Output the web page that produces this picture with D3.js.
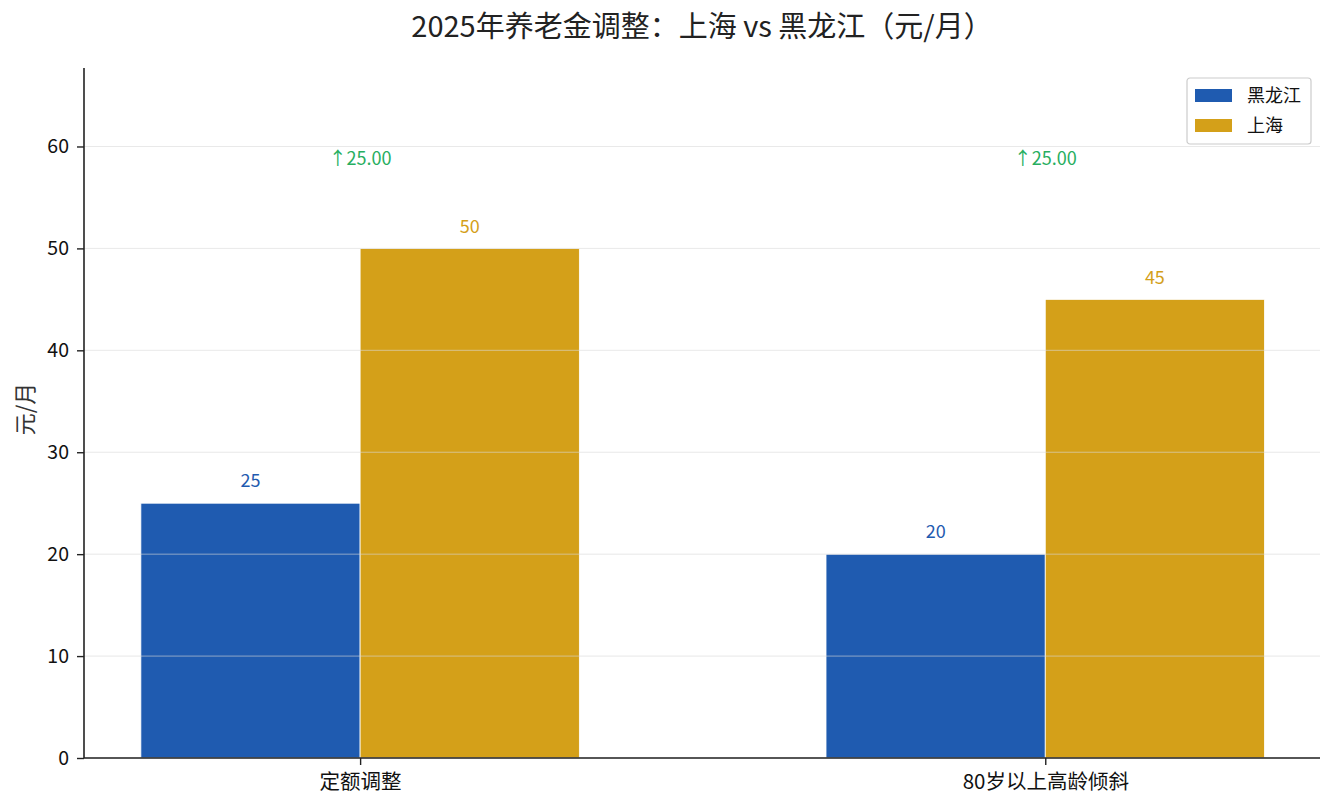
<!DOCTYPE html>
<html>
<head>
<meta charset="utf-8">
<script src="https://cdn.jsdelivr.net/npm/d3@7"></script>
<style>
  body { margin: 0; background: #fff; }
  svg text { font-family: "Noto Sans CJK SC", "Noto Sans", sans-serif; }
</style>
</head>
<body>
<div id="chart"></div>
<script>
const width = 1334;
const height = 810;

// 数据
const categories = ["定额调整", "80岁以上高龄倾斜"];
const seriesNames = ["黑龙江", "上海"];
const heilongjiang = [25, 20];
const shanghai = [50, 45];
const diffLabels = ["↑25.00", "↑25.00"];
const yTicks = [0, 10, 20, 30, 40, 50, 60];

const colors = ["#1f5bb0", "#d4a019"];
const margin = { top: 68, right: 14, bottom: 52, left: 84 };
const innerW = width - margin.left - margin.right;
const innerH = height - margin.top - margin.bottom;

const svg = d3.select("#chart").append("svg")
  .attr("width", width)
  .attr("height", height);

const g = svg.append("g").attr("transform", `translate(${margin.left},${margin.top})`);

// 比例尺
const x = d3.scaleLinear().domain([-0.403, 1.401]).range([0, innerW]);
const y = d3.scaleLinear().domain([0, 67.7]).range([innerH, 0]);
const barW = x(0.32) - x(0);

// 柱子
const series = [heilongjiang, shanghai];
series.forEach((vals, si) => {
  g.selectAll(".bar" + si)
    .data(vals)
    .enter()
    .append("rect")
    .attr("x", (d, i) => si === 0 ? x(i) - barW : x(i))
    .attr("y", d => y(d))
    .attr("width", barW)
    .attr("height", d => y(0) - y(d))
    .attr("fill", colors[si])
    .attr("stroke", "#fff")
    .attr("stroke-width", 0.8);

  g.selectAll(".val" + si)
    .data(vals)
    .enter()
    .append("text")
    .attr("x", (d, i) => si === 0 ? x(i) - barW / 2 : x(i) + barW / 2)
    .attr("y", d => y(d) - 22)
    .attr("dy", "0.35em")
    .attr("text-anchor", "middle")
    .attr("font-size", 18)
    .attr("fill", colors[si])
    .text(d => d);
});

// 网格线（在柱子上方）
g.append("g")
  .selectAll("line")
  .data(yTicks)
  .enter()
  .append("line")
  .attr("x1", 0)
  .attr("x2", innerW)
  .attr("y1", d => y(d))
  .attr("y2", d => y(d))
  .attr("stroke", "#d8d8d8")
  .attr("stroke-opacity", 0.6)
  .attr("stroke-width", 1);

// 差值标注
g.selectAll(".diff")
  .data(diffLabels)
  .enter()
  .append("text")
  .attr("x", (d, i) => x(i))
  .attr("y", y(58.8))
  .attr("dy", "0.35em")
  .attr("text-anchor", "middle")
  .attr("font-size", 18)
  .attr("fill", "#27ae60")
  .text(d => d);

// 坐标轴
const yAxis = g.append("g")
  .call(d3.axisLeft(y).tickValues(yTicks).tickSize(7).tickPadding(8));
const xAxis = g.append("g")
  .attr("transform", `translate(0,${innerH})`)
  .call(d3.axisBottom(x).tickValues([0, 1]).tickFormat(i => categories[i]).tickSize(7).tickPadding(9));

[yAxis, xAxis].forEach(ax => {
  ax.select(".domain").attr("stroke", "#222").attr("stroke-width", 1.6);
  ax.selectAll(".tick line").attr("stroke", "#222").attr("stroke-width", 1.4);
  ax.selectAll(".tick text").attr("font-size", 19.5).attr("fill", "#111")
    .style("font-family", '"Noto Sans CJK SC", sans-serif');
});
xAxis.selectAll(".tick text").attr("font-size", 20.5);
yAxis.select(".domain").attr("d", `M0,${innerH}V0`);
xAxis.select(".domain").attr("d", `M0,0H${innerW}`);

// 轴标题
svg.append("text")
  .attr("transform", `translate(25,${margin.top + innerH / 2 - 4}) rotate(-90)`)
  .attr("text-anchor", "middle")
  .attr("dy", "0.35em")
  .attr("font-size", 22)
  .attr("fill", "#333")
  .text("元/月");

// 标题
svg.append("text")
  .attr("x", margin.left + innerW / 2)
  .attr("y", 27)
  .attr("dy", "0.35em")
  .attr("text-anchor", "middle")
  .attr("font-size", 29)
  .attr("fill", "#222")
  .text("2025年养老金调整：上海 vs 黑龙江（元/月）");

// 图例
const legend = svg.append("g").attr("transform", "translate(1187,78)");
legend.append("rect")
  .attr("width", 124).attr("height", 66).attr("rx", 3)
  .attr("fill", "#fff").attr("stroke", "#cccccc").attr("stroke-width", 1.2);
seriesNames.forEach((name, i) => {
  legend.append("rect")
    .attr("x", 8).attr("y", 11 + i * 30)
    .attr("width", 37).attr("height", 13)
    .attr("fill", colors[i]);
  legend.append("text")
    .attr("x", 60).attr("y", 17.5 + i * 30)
    .attr("dy", "0.35em")
    .attr("font-size", 18)
    .attr("fill", "#111")
    .text(name);
});
</script>
</body>
</html>
